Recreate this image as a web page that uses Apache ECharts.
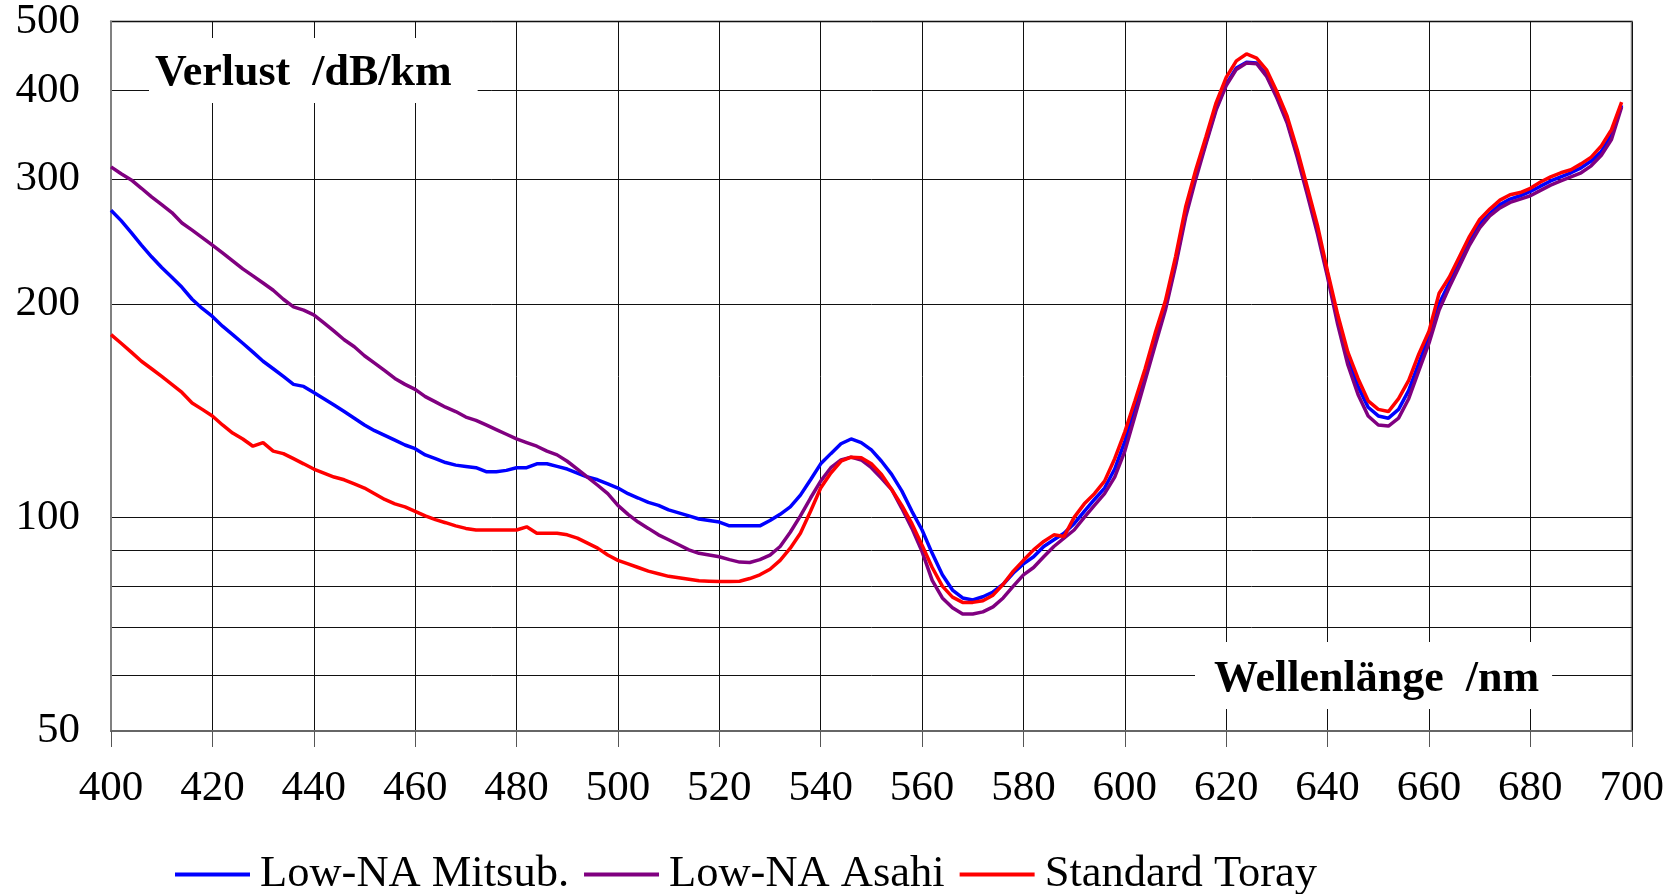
<!DOCTYPE html>
<html>
<head>
<meta charset="utf-8">
<title>Verlust / Wellenlänge</title>
<script src="https://cdn.jsdelivr.net/npm/echarts@6.0.0/dist/echarts.min.js"></script>
<style>
    html, body { margin: 0; padding: 0; background: #fff; }
    #chart { width: 1667px; height: 894px; }
</style>
</head>
<body>
<div id="chart"></div>
<script>
// Wellenlängen der Messpunkte (nm), 2-nm-Raster
const WAVELENGTHS = [
    400, 402, 404, 406, 408, 410, 412, 414, 416, 418,
    420, 422, 424, 426, 428, 430, 432, 434, 436, 438,
    440, 442, 444, 446, 448, 450, 452, 454, 456, 458,
    460, 462, 464, 466, 468, 470, 472, 474, 476, 478,
    480, 482, 484, 486, 488, 490, 492, 494, 496, 498,
    500, 502, 504, 506, 508, 510, 512, 514, 516, 518,
    520, 522, 524, 526, 528, 530, 532, 534, 536, 538,
    540, 542, 544, 546, 548, 550, 552, 554, 556, 558,
    560, 562, 564, 566, 568, 570, 572, 574, 576, 578,
    580, 582, 584, 586, 588, 590, 592, 594, 596, 598,
    600, 602, 604, 606, 608, 610, 612, 614, 616, 618,
    620, 622, 624, 626, 628, 630, 632, 634, 636, 638,
    640, 642, 644, 646, 648, 650, 652, 654, 656, 658,
    660, 662, 664, 666, 668, 670, 672, 674, 676, 678,
    680, 682, 684, 686, 688, 690, 692, 694, 696, 698
];

// Verlust in dB/km
const MITSUB = [
    271, 262, 252, 242, 233, 225, 218, 211, 203, 197,
    192, 186, 181, 176, 171, 166, 162, 158, 154, 153,
    150, 147, 144, 141, 138, 135, 132.5, 130.5, 128.5, 126.5,
    125, 122.5, 121, 119.5, 118.5, 118, 117.5, 116, 116, 116.5,
    117.5, 117.5, 119, 119, 118, 117, 115.5, 114, 113, 111.5,
    110, 108, 106.5, 105, 104, 102.5, 101.5, 100.5, 99.5, 99,
    98.5, 97.3, 97.3, 97.3, 97.3, 99, 101, 103.5, 107.5, 113,
    119, 123, 127, 129, 127.5, 124.5, 120, 115, 109, 102,
    96, 89, 83, 79, 77, 76.5, 77.3, 78.5, 80.5, 83.5,
    86, 88, 91, 93, 95, 98, 102, 106, 110, 117,
    128, 143, 159, 178, 198, 228, 268, 303, 338, 377,
    408, 430, 438, 437, 420, 392, 362, 325, 288, 254,
    220, 190, 168, 153, 143, 139, 138, 142, 151, 165,
    180, 200, 214, 229, 245, 259, 268, 276, 281, 284,
    288, 293, 298, 302, 306, 311, 318, 328, 346, 381
];

const ASAHI = [
    312, 305, 299, 291, 283, 276, 269, 260, 254, 248,
    242, 236, 230, 224, 219, 214, 209, 203, 198, 196,
    193, 188, 183, 178, 174, 169, 165, 161, 157, 154,
    151.5, 148, 145.5, 143, 141, 138.5, 137, 135, 133, 131,
    129, 127.5, 126, 124, 122.5, 120, 117, 114, 111, 108,
    104, 101, 98.5, 96.5, 94.5, 93, 91.5, 90, 89, 88.5,
    88, 87.2, 86.5, 86.4, 87.2, 88.5, 91, 95.3, 100.5, 106.5,
    112.5, 117.5, 120.5, 121.6, 120.5, 117.5, 113.5, 109.5, 103, 96.5,
    89.5, 81.5, 77, 74.6, 73.1, 73.1, 73.6, 74.8, 77, 80,
    83, 85, 88, 91, 93.5, 96, 100, 104, 108, 114,
    124, 139, 156, 175, 196, 226, 265, 300, 336, 375,
    406, 428, 437, 436, 418, 390, 360, 322, 285, 251,
    218, 187, 164, 149, 139, 135, 134.5, 138, 147, 161,
    176, 196, 211, 226, 242, 256, 266, 273, 278, 281,
    284, 289, 294, 298, 302, 306, 313, 324, 341, 379
];

const TORAY = [
    181, 176, 171, 166, 162, 158, 154, 150, 145, 142,
    139, 135, 131.5, 129, 126, 127.5, 124, 123, 121, 119,
    117, 115.5, 114, 113, 111.5, 110, 108, 106, 104.5, 103.5,
    102, 100.5, 99.3, 98.3, 97.3, 96.5, 96, 96, 96, 96,
    96, 97, 95, 95, 95, 94.5, 93.5, 92, 90.5, 88.5,
    87, 86, 85, 84, 83.3, 82.6, 82.2, 81.8, 81.4, 81.3,
    81.2, 81.2, 81.3, 82, 83, 84.5, 87, 90.5, 95, 102,
    110, 115.5, 120, 121.6, 121.4, 119, 115, 109.5, 104, 98,
    91.4, 85, 80, 77.2, 75.9, 75.9, 76.3, 77.7, 80.5, 84,
    87, 90, 92.5, 94.5, 94, 100, 104.5, 108, 112.5, 121,
    132, 146, 162, 182, 202, 233, 274, 309, 344, 384,
    417, 440, 450, 444, 427, 398, 368, 330, 292, 258,
    222, 193, 171, 157, 146, 142, 141, 147, 156, 170,
    183, 207, 218, 233, 249, 263, 272, 280, 285, 287,
    291, 297, 302, 306, 309, 315, 322, 334, 352, 385
];

const SERIES_NAMES = ['Low-NA Mitsub.', 'Low-NA Asahi', 'Standard Toray'];

// Achsen: Beschriftung und Gitterlinien
const Y_LABELS = [50, 100, 200, 300, 400, 500];
const Y_GRID = [50, 60, 70, 80, 90, 100, 200, 300, 400, 500];

const FONT = "'Liberation Serif', 'Times New Roman', serif";

function pairs(values) {
    return WAVELENGTHS.map((x, i) => [x, values[i]]);
}

function lineSeries(name, values, color) {
    return {
        name: name,
        type: 'line',
        data: pairs(values),
        showSymbol: false,
        symbol: 'none',
        smooth: false,
        z: 3,
        itemStyle: { color: color },
        lineStyle: { color: color, width: 3.5 }
    };
}

const chart = echarts.init(document.getElementById('chart'));

const option = {
    animation: false,
    backgroundColor: '#fff',
    textStyle: { fontFamily: FONT },
    title: [
        {
            text: 'Verlust  /dB/km',
            left: 149,
            top: 38,
            padding: [14, 26, 7, 6],
            backgroundColor: '#fff',
            textStyle: { fontFamily: FONT, fontSize: 44, fontWeight: 'bold', color: '#000', lineHeight: 44 }
        },
        {
            text: 'Wellenlänge  /nm',
            left: 1195,
            top: 642,
            padding: [16, 13, 7, 19],
            backgroundColor: '#fff',
            textStyle: { fontFamily: FONT, fontSize: 44, fontWeight: 'bold', color: '#000', lineHeight: 44 }
        }
    ],
    legend: {
        data: SERIES_NAMES,
        left: 175,
        top: 852,
        padding: 0,
        icon: 'rect',
        itemWidth: 75,
        itemHeight: 4,
        itemGap: 15,
        textStyle: { fontFamily: FONT, fontSize: 44.5, color: '#000', lineHeight: 45, padding: [0, 0, 0, 5] }
    },
    grid: {
        left: 111,
        top: 19,
        width: 1524,
        height: 712,
        show: true,
        borderColor: '#808080',
        borderWidth: 2,
        backgroundColor: '#fff'
    },
    xAxis: {
        type: 'value',
        min: 400,
        max: 700,
        interval: 20,
        axisLine: { show: true, lineStyle: { color: '#666', width: 2 } },
        axisTick: { show: true, length: 16, lineStyle: { color: '#555', width: 1 } },
        axisLabel: { fontFamily: FONT, fontSize: 43, color: '#000', margin: 36 },
        splitLine: { show: true, lineStyle: { color: '#111', width: 1 } }
    },
    yAxis: {
        type: 'log',
        logBase: 10,
        min: 50,
        max: 500,
        axisLine: { show: true, lineStyle: { color: '#808080', width: 2 } },
        axisTick: { show: false, customValues: Y_GRID },
        axisLabel: { fontFamily: FONT, fontSize: 43, color: '#000', margin: 31, padding: [4, 0, 0, 0], customValues: Y_LABELS },
        splitLine: { show: true, lineStyle: { color: '#111', width: 1 } }
    },
    series: [
        lineSeries(SERIES_NAMES[0], MITSUB, '#0000ff'),
        lineSeries(SERIES_NAMES[1], ASAHI, '#800080'),
        lineSeries(SERIES_NAMES[2], TORAY, '#ff0000')
    ]
};

chart.setOption(option);
</script>
</body>
</html>
